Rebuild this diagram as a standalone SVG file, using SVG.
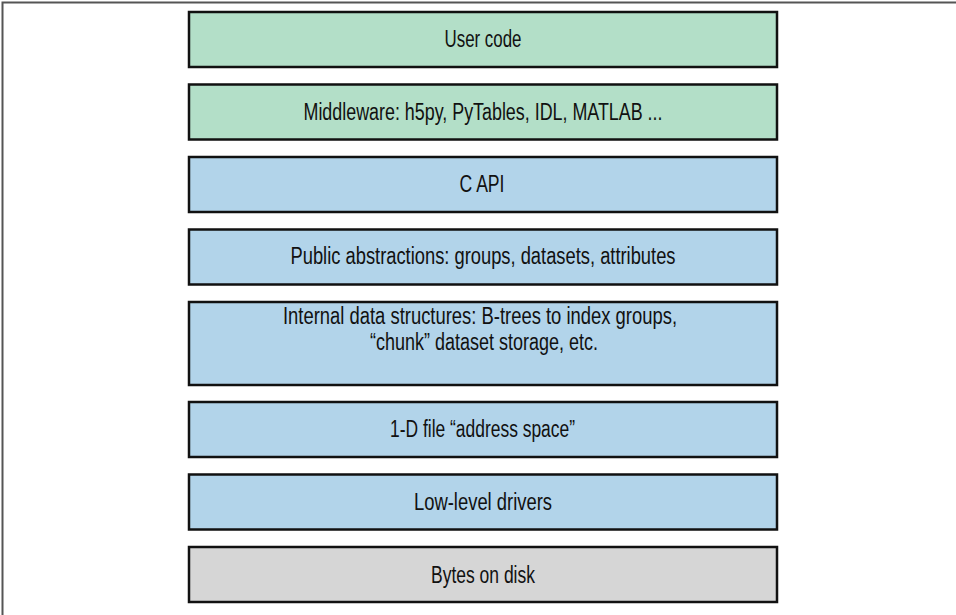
<svg xmlns="http://www.w3.org/2000/svg" width="956" height="615" viewBox="0 0 956 615">
<style>
.box{stroke:#111;stroke-width:2.5}
.g{fill:#b3dfc8}
.b{fill:#b2d4ea}
.d{fill:#d6d6d6}
text{font-family:"Liberation Sans",Arial,sans-serif;font-size:23px;fill:#111;text-anchor:middle}
</style>
<rect width="956" height="615" fill="#fff"/>
<path d="M2.5,615 V2.5 H956" fill="none" stroke="#555" stroke-width="2"/>
<g id="user-code"><rect class="box g" x="189" y="12" width="588" height="55"/><text x="483" y="46.5" textLength="77" lengthAdjust="spacingAndGlyphs">User code</text></g>
<g id="middleware"><rect class="box g" x="189" y="84.5" width="588" height="55"/><text x="483" y="119.5" textLength="359" lengthAdjust="spacingAndGlyphs">Middleware: h5py, PyTables, IDL, MATLAB ...</text></g>
<g id="c-api"><rect class="box b" x="189" y="157" width="588" height="55"/><text x="482" y="191.5" textLength="45" lengthAdjust="spacingAndGlyphs">C API</text></g>
<g id="public"><rect class="box b" x="189" y="229.5" width="588" height="55"/><text x="483" y="264" textLength="385" lengthAdjust="spacingAndGlyphs">Public abstractions: groups, datasets, attributes</text></g>
<g id="internal"><rect class="box b" x="189" y="302" width="588" height="83"/><text x="480" y="324" textLength="394" lengthAdjust="spacingAndGlyphs">Internal data structures: B-trees to index groups,</text><text x="484" y="350" textLength="228" lengthAdjust="spacingAndGlyphs">“chunk” dataset storage, etc.</text></g>
<g id="address-space"><rect class="box b" x="189" y="402" width="588" height="55"/><text x="482.5" y="436.5" textLength="185" lengthAdjust="spacingAndGlyphs">1-D file “address space”</text></g>
<g id="drivers"><rect class="box b" x="189" y="474.5" width="588" height="55"/><text x="483" y="509.5" textLength="138" lengthAdjust="spacingAndGlyphs">Low-level drivers</text></g>
<g id="disk"><rect class="box d" x="189" y="547" width="588" height="55"/><text x="483" y="582.5" textLength="104" lengthAdjust="spacingAndGlyphs">Bytes on disk</text></g>
<g id="connectors"></g>
</svg>
